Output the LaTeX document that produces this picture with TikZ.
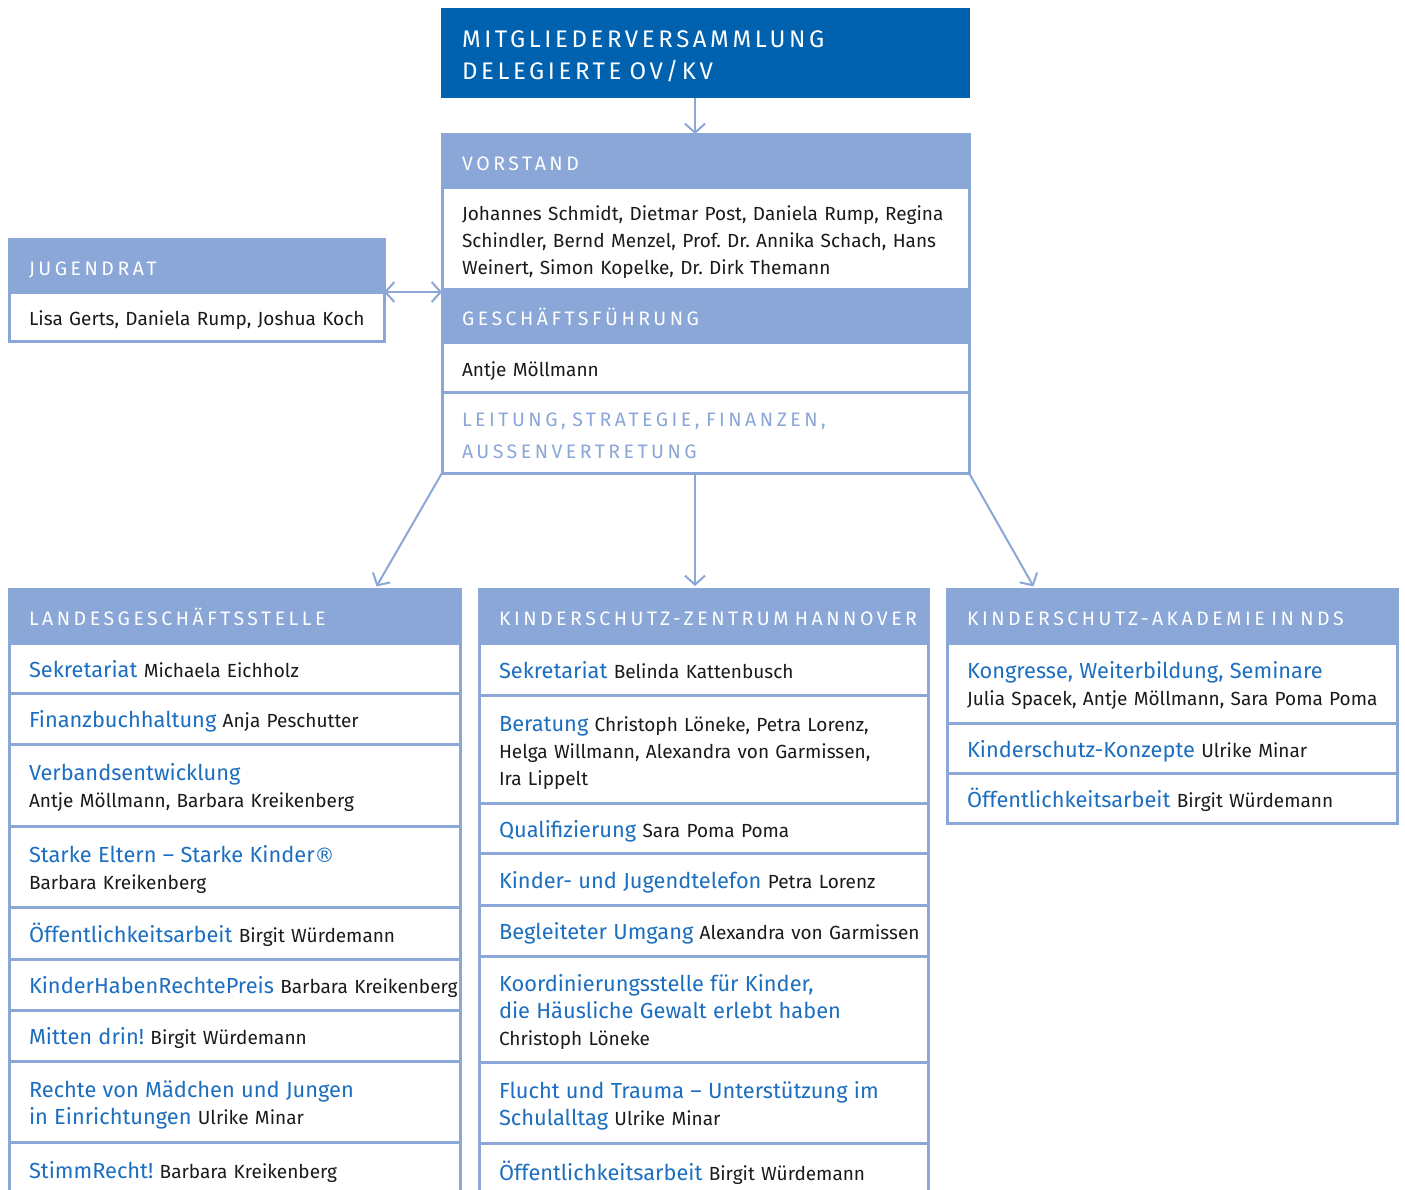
\documentclass[tikz,border=0pt]{standalone}
\usepackage{fontspec}
\setmainfont{Fira Sans}
\newfontfamily\capsfont[LetterSpace=18,WordSpace=1.6]{Fira Sans}
\newfontfamily\boardfont[LetterSpace=15,WordSpace=1.6]{Fira Sans}
\newfontfamily\regfont{DejaVu Sans}
\usetikzlibrary{arrows.meta,positioning}
\definecolor{navy}{HTML}{0061AF}
\definecolor{pale}{HTML}{8AA7D7}
\definecolor{topic}{HTML}{1C6EC0}
\definecolor{ink}{HTML}{1A1A1A}
\newcommand{\dept}[1]{{\fontsize{21.8}{27}\selectfont\color{topic}#1}}

\begin{document}
\frenchspacing
\begin{tikzpicture}[x=1pt,y=-1pt,
      board/.style={fill=navy,text=white,anchor=north west,align=left,inner xsep=21pt,
                    text width=487pt,minimum height=90pt,outer sep=0pt,
                    text height=20pt,text depth=31pt,
                    font=\boardfont\fontsize{24}{32}\selectfont},
      head/.style={fill=pale,draw=pale,line width=3pt,anchor=north west,align=left,
                   inner xsep=20pt,outer sep=0pt,text=white,minimum height=54pt,
                   text height=19pt,text depth=0pt,
                   font=\capsfont\fontsize{19.5}{27}\selectfont},
      cell/.style={draw=pale,line width=3pt,fill=white,anchor=north west,align=left,
                   inner xsep=20pt,outer sep=0pt,text=ink,
                   text height=20pt,text depth=2pt,
                   font=\fontsize{19}{27}\selectfont},
      two/.style={text depth=29pt},
      three/.style={text depth=56pt},
      vst/.style={text width=487pt},
      jrw/.style={text width=335pt},
      colA/.style={text width=411pt},
      colB/.style={text width=409pt},
      colC/.style={text width=410pt},
      link/.style={draw=pale,line width=2pt,
                   -{Straight Barb[length=9pt,width=20pt,line width=2pt]}},
      pair/.style={draw=pale,line width=2pt,
                   {Straight Barb[length=9pt,width=20pt,line width=2pt]}-{Straight Barb[length=9pt,width=20pt,line width=2pt]}}]
    \useasboundingbox (0,0) rectangle (1405,1189);
    \clip (0,0) rectangle (1405,1189);
    % top
    \node[board] (mv) at (441,8) {MITGLIEDERVERSAMMLUNG\\DELEGIERTE OV/KV};
    \node[head,vst,minimum height=53pt] (vorstand) at (442,134) {VORSTAND};
    \node[cell,vst,three,minimum height=102pt] (members) at (442,187) {Johannes Schmidt, Dietmar Post, Daniela Rump, Regina\\Schindler, Bernd Menzel, Prof. Dr. Annika Schach, Hans\\Weinert, Simon Kopelke, Dr. Dirk Themann};
    \node[head,vst,minimum height=53pt] (gf) at (442,289) {GESCHÄFTSFÜHRUNG};
    \node[cell,vst,minimum height=50pt] (gfname) at (442,342) {Antje Möllmann};
    \node[cell,vst,minimum height=81pt,text=pale,text height=19pt,text depth=32pt,
          font=\capsfont\fontsize{19.5}{32}\selectfont] (leitung) at (442,392) {LEITUNG, STRATEGIE, FINANZEN,\\AUSSENVERTRETUNG};
    \draw[link] ([xshift=-10.5pt]mv.south) -- ([xshift=-10.5pt]vorstand.north);
    % jugendrat
    \node[head,jrw,minimum height=53pt] (jr) at (9,239) {JUGENDRAT};
    \node[cell,jrw,minimum height=49pt] (jrnames) at (9,292) {\mbox{Lisa Gerts, Daniela Rump, Joshua Koch}};
    \draw[pair] (jrnames.north east) -- (jrnames.north east -| gf.west);

    % landesgeschaeftsstelle
    \node[head,colA] (lgs) at (9,589) {\mbox{LANDESGESCHÄFTSSTELLE}};
    \node[cell,colA,minimum height=50pt] (lgs1) at (9,643) {\dept{Sekretariat} Michaela Eichholz};
    \node[cell,colA,minimum height=51pt] (lgs2) at (9,693) {\dept{Finanzbuchhaltung} Anja Peschutter};
    \node[cell,colA,two,minimum height=82pt] (lgs3) at (9,744) {\dept{Verbandsentwicklung}\\Antje Möllmann, Barbara Kreikenberg};
    \node[cell,colA,two,minimum height=81pt] (lgs4) at (9,826) {\dept{Starke Eltern – Starke Kinder{\regfont\fontsize{20}{27}\selectfont ®}}\\Barbara Kreikenberg};
    \node[cell,colA,minimum height=52pt] (lgs5) at (9,907) {\dept{Öffentlichkeitsarbeit} Birgit Würdemann};
    \node[cell,colA,minimum height=51pt] (lgs6) at (9,959) {\mbox{\dept{KinderHabenRechtePreis} Barbara Kreikenberg}};
    \node[cell,colA,minimum height=51pt] (lgs7) at (9,1010) {\dept{Mitten drin!} Birgit Würdemann};
    \node[cell,colA,two,minimum height=81pt] (lgs8) at (9,1061) {\dept{Rechte von Mädchen und Jungen}\\\dept{in Einrichtungen} Ulrike Minar};
    \node[cell,colA,minimum height=54pt] (lgs9) at (9,1142) {\dept{StimmRecht!} Barbara Kreikenberg};

    % kinderschutz-zentrum
    \node[head,colB] (ksz) at (479,589) {\mbox{KINDERSCHUTZ-ZENTRUM HANNOVER}};
    \node[cell,colB,minimum height=52pt] (ksz1) at (479,643) {\dept{Sekretariat} Belinda Kattenbusch};
    \node[cell,colB,three,minimum height=108pt] (ksz2) at (479,695) {\dept{Beratung} Christoph Löneke, Petra Lorenz,\\Helga Willmann, Alexandra von Garmissen,\\Ira Lippelt};
    \node[cell,colB,minimum height=50pt] (ksz3) at (479,803) {\dept{Qualifizierung} Sara Poma Poma};
    \node[cell,colB,minimum height=52pt] (ksz4) at (479,853) {\dept{Kinder- und Jugendtelefon} Petra Lorenz};
    \node[cell,colB,minimum height=51pt] (ksz5) at (479,905) {\mbox{\dept{Begleiteter Umgang} Alexandra von Garmissen}};
    \node[cell,colB,three,minimum height=106pt] (ksz6) at (479,956) {\dept{Koordinierungsstelle für Kinder,}\\\dept{die Häusliche Gewalt erlebt haben}\\Christoph Löneke};
    \node[cell,colB,two,minimum height=81pt] (ksz7) at (479,1062) {\dept{Flucht und Trauma – Unterstützung im}\\\dept{Schulalltag} Ulrike Minar};
    \node[cell,colB,minimum height=56pt] (ksz8) at (479,1143) {\dept{Öffentlichkeitsarbeit} Birgit Würdemann};

    % akademie
    \node[head,colC] (aka) at (947,589) {\mbox{KINDERSCHUTZ-AKADEMIE IN NDS}};
    \node[cell,colC,two,minimum height=80pt] (aka1) at (947,643) {\dept{Kongresse, Weiterbildung, Seminare}\\\mbox{Julia Spacek, Antje Möllmann, Sara Poma Poma}};
    \node[cell,colC,minimum height=50pt] (aka2) at (947,723) {\dept{Kinderschutz-Konzepte} Ulrike Minar};
    \node[cell,colC,minimum height=50pt] (aka3) at (947,773) {\dept{Öffentlichkeitsarbeit} Birgit Würdemann};

    % arrows down
    \coordinate (drop) at ([xshift=-10.5pt]leitung.south);
    \draw[link,shorten >=3pt] (leitung.south west) -- ([xshift=-85pt]lgs.north east);
    \draw[link,shorten >=3pt] (drop) -- (drop |- ksz.north);
    \draw[link,shorten >=3pt] (leitung.south east) -- ([xshift=88pt]aka.north west);
\end{tikzpicture}
\end{document}
